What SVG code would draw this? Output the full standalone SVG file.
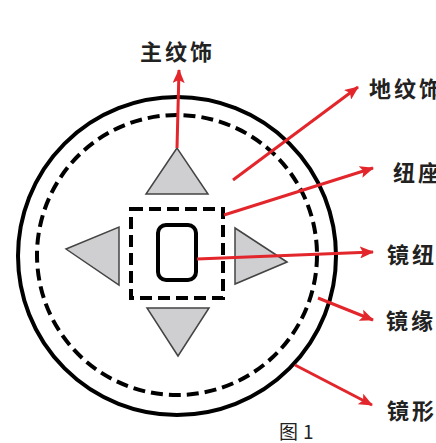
<svg xmlns="http://www.w3.org/2000/svg" width="436" height="443" viewBox="0 0 436 443">
<defs>
<marker id="ah" markerUnits="userSpaceOnUse" markerWidth="14" markerHeight="12" viewBox="0 0 14 12" refX="13" refY="6" orient="auto">
<path d="M0,0 L14,6 L0,12 L3,6 Z" fill="#e2262b"/>
</marker>
</defs>
<style>
.lbl{font-family:"Noto Sans CJK SC","Noto Sans",sans-serif;font-size:22px;font-weight:700;fill:#222;letter-spacing:3px}
.tri{fill:#cfcfd1;stroke:#444;stroke-width:1.5;stroke-linejoin:miter}
.dash{fill:none;stroke:#000;stroke-width:4;stroke-dasharray:12 6}
.con{fill:none;stroke:#e2262b;stroke-width:3;marker-end:url(#ah)}
</style>
<rect width="436" height="443" fill="#fff"/>
<g id="mirror-shape"><circle cx="177" cy="256" r="159" fill="none" stroke="#000" stroke-width="4"/></g>
<g id="mirror-rim"><circle cx="177" cy="255" r="140" class="dash"/></g>
<g id="main-top"><polygon class="tri" points="177,148 146,194 208,194"/></g>
<g id="main-left"><polygon class="tri" points="66,249 119,227 119,285"/></g>
<g id="main-right"><polygon class="tri" points="287,262 235,228 235,284"/></g>
<g id="main-bottom"><polygon class="tri" points="147,308 209,308 178,356"/></g>
<g id="knob-seat"><rect x="131" y="209" width="92" height="89" class="dash" stroke-dasharray="10 5"/></g>
<g id="knob"><rect x="158" y="225" width="38" height="55" rx="8" fill="none" stroke="#000" stroke-width="4"/></g>
<g id="connectors">
<line class="con" x1="177" y1="148" x2="179" y2="70"/>
<line class="con" x1="233" y1="180" x2="358" y2="87"/>
<line class="con" x1="224" y1="215" x2="373" y2="168"/>
<line class="con" x1="197" y1="259" x2="373" y2="252"/>
<line class="con" x1="318" y1="298" x2="373" y2="320"/>
<line class="con" x1="295" y1="365" x2="372" y2="405"/>
</g>
<g id="labels">
<text class="lbl" x="140" y="60">主纹饰</text>
<text class="lbl" x="369" y="97">地纹饰</text>
<text class="lbl" x="393" y="181">纽座</text>
<text class="lbl" x="387" y="263">镜纽</text>
<text class="lbl" x="386" y="329">镜缘</text>
<text class="lbl" x="387" y="419">镜形</text>
<text x="279" y="439" style="font-family:'Noto Sans CJK SC','Liberation Sans',sans-serif;font-size:19px;fill:#222">图<tspan dx="5">1</tspan></text>
</g>
</svg>
